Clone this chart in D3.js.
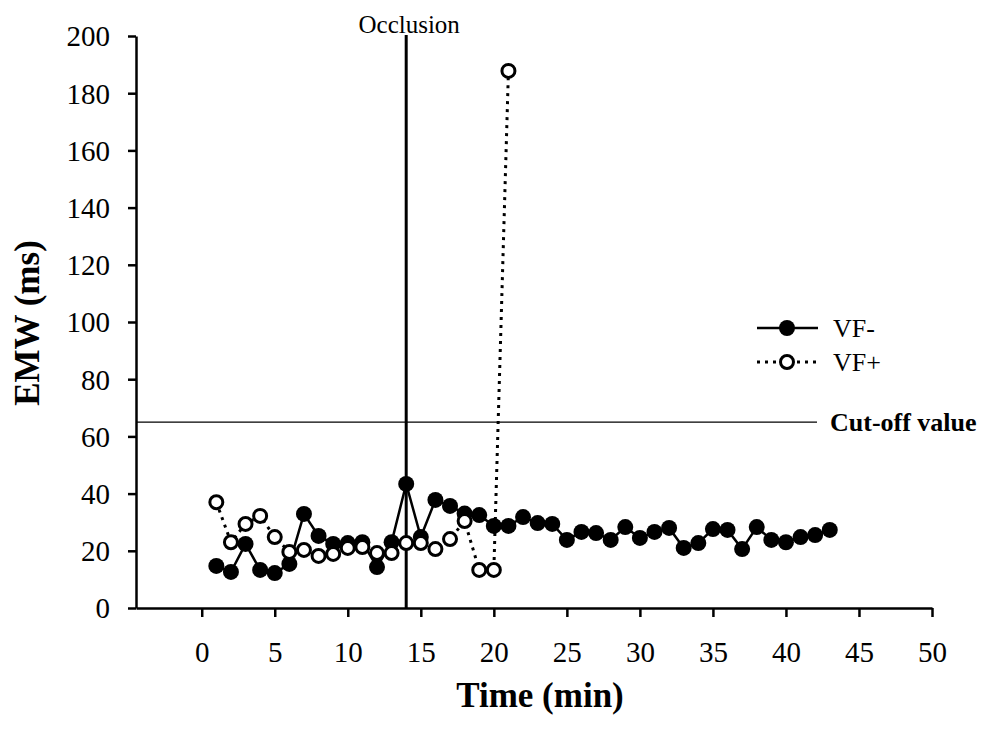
<!DOCTYPE html>
<html>
<head>
<meta charset="utf-8">
<script src="https://cdn.jsdelivr.net/npm/d3@7"></script>
<style>
  html, body { margin: 0; padding: 0; background: #fff; }
  text { font-family: "Liberation Serif", "Times New Roman", serif; fill: #000; }
</style>
</head>
<body>
<svg id="chart" width="982" height="729"></svg>
<script>
// ---- data ----
const timeNeg = d3.range(1, 44);
const vfNeg = [14.7, 12.6, 22.4, 13.3, 12.2, 15.4, 32.9, 25.2, 22.4, 22.7,
               23.0, 14.3, 23.0, 43.4, 24.8, 37.8, 35.7, 33.0, 32.5, 28.7,
               28.7, 31.8, 29.7, 29.4, 23.8, 26.6, 26.2, 23.8, 28.3, 24.5,
               26.6, 28.0, 21.0, 22.7, 27.6, 27.3, 20.6, 28.3, 23.8, 23.0,
               24.8, 25.5, 27.3];
const timePos = d3.range(1, 22);
const vfPos = [37.0, 23.0, 29.4, 32.2, 24.8, 19.6, 20.3, 18.2, 18.9, 21.0,
               21.3, 19.2, 19.2, 22.7, 22.7, 20.6, 24.1, 30.4, 13.3, 13.3,
               187.8];
const xTicks = [0, 5, 10, 15, 20, 25, 30, 35, 40, 45, 50];
const yTicks = [0, 20, 40, 60, 80, 100, 120, 140, 160, 180, 200];
const occlusionTime = 14;
const cutoffValue = 65;
const seriesNames = ["VF-", "VF+"];

// ---- chart ----
const svg = d3.select("#chart");
const x = d3.scaleLinear().domain([-4.5, 50]).range([136, 932]);
const y = d3.scaleLinear().domain([0, 200]).range([608, 36]);

// cut-off line
svg.append("line")
  .attr("x1", x(-4.5)).attr("x2", 817)
  .attr("y1", y(cutoffValue)).attr("y2", y(cutoffValue))
  .attr("stroke", "#000").attr("stroke-width", 1.3);
svg.append("text")
  .attr("x", 830).attr("y", y(cutoffValue) + 9)
  .attr("font-size", 26).attr("font-weight", "bold")
  .text("Cut-off value");

// occlusion line
svg.append("line")
  .attr("x1", x(occlusionTime)).attr("x2", x(occlusionTime))
  .attr("y1", y(200) - 1).attr("y2", y(0))
  .attr("stroke", "#000").attr("stroke-width", 3);
svg.append("text")
  .attr("x", x(occlusionTime) + 3).attr("y", 33)
  .attr("text-anchor", "middle")
  .attr("font-size", 25)
  .text("Occlusion");

// axes
const yAxis = d3.axisLeft(y).tickValues(yTicks).tickSize(8).tickSizeOuter(0).tickPadding(18);
const xAxis = d3.axisBottom(x).tickValues(xTicks).tickSize(9).tickSizeOuter(0).tickPadding(24);

const gy = svg.append("g").attr("transform", `translate(${x(-4.5)},0)`).call(yAxis);
const gx = svg.append("g").attr("transform", `translate(0,${y(0)})`).call(xAxis);
[gx, gy].forEach(g => {
  g.select(".domain").attr("stroke", "#000").attr("stroke-width", 2.5);
  g.selectAll(".tick line").attr("stroke", "#000").attr("stroke-width", 2.5);
  g.selectAll(".tick text")
    .attr("font-family", "'Liberation Serif', 'Times New Roman', serif")
    .attr("font-size", 29).attr("fill", "#000");
});
gy.selectAll(".tick text").attr("dy", "0.34em");

// axis titles
svg.append("text")
  .attr("x", 540).attr("y", 707)
  .attr("text-anchor", "middle")
  .attr("font-size", 35).attr("font-weight", "bold")
  .text("Time (min)");
svg.append("text")
  .attr("transform", "translate(39,323) rotate(-90)")
  .attr("text-anchor", "middle")
  .attr("font-size", 35).attr("font-weight", "bold")
  .text("EMW (ms)");

// series
const negData = timeNeg.map((t, i) => ({ t, v: vfNeg[i] }));
const posData = timePos.map((t, i) => ({ t, v: vfPos[i] }));
const line = d3.line().x(d => x(d.t)).y(d => y(d.v));

svg.append("path").datum(negData)
  .attr("d", line).attr("fill", "none")
  .attr("stroke", "#000").attr("stroke-width", 2.5);
svg.append("g").selectAll("circle").data(negData).join("circle")
  .attr("cx", d => x(d.t)).attr("cy", d => y(d.v)).attr("r", 8)
  .attr("fill", "#000");

svg.append("path").datum(posData)
  .attr("d", line).attr("fill", "none")
  .attr("stroke", "#000").attr("stroke-width", 3)
  .attr("stroke-dasharray", "3,5");
svg.append("g").selectAll("circle").data(posData).join("circle")
  .attr("cx", d => x(d.t)).attr("cy", d => y(d.v)).attr("r", 6.5)
  .attr("fill", "#fff").attr("stroke", "#000").attr("stroke-width", 3);

// legend
const leg = svg.append("g");
const legRows = [
  { name: seriesNames[0], yy: 328, dash: null, fill: "#000", sw: 2.5 },
  { name: seriesNames[1], yy: 362, dash: "3,5", fill: "#fff", sw: 3 }
];
legRows.forEach(r => {
  leg.append("line").attr("x1", 757).attr("x2", 818)
    .attr("y1", r.yy).attr("y2", r.yy)
    .attr("stroke", "#000").attr("stroke-width", r.sw)
    .attr("stroke-dasharray", r.dash);
  if (r.fill === "#000") {
    leg.append("circle").attr("cx", 787).attr("cy", r.yy).attr("r", 8).attr("fill", "#000");
  } else {
    leg.append("circle").attr("cx", 787).attr("cy", r.yy).attr("r", 6.5)
      .attr("fill", "#fff").attr("stroke", "#000").attr("stroke-width", 3);
  }
  leg.append("text").attr("x", 833).attr("y", r.yy + 9)
    .attr("font-size", 26).text(r.name);
});
</script>
</body>
</html>
